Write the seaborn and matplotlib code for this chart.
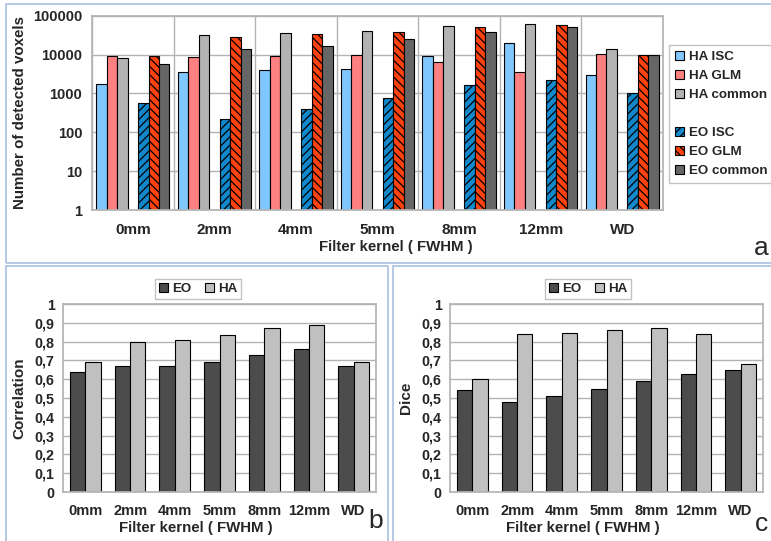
import numpy as np
import pandas as pd
import matplotlib
matplotlib.use("Agg")
import matplotlib.pyplot as plt
import seaborn as sns
from matplotlib.patches import Patch, Rectangle
from matplotlib.colors import to_hex

sns.set_theme(style="white")
plt.rcParams['font.family'] = ['Liberation Sans', 'DejaVu Sans']
plt.rcParams['font.weight'] = 'bold'
plt.rcParams['hatch.linewidth'] = 0.9

# ---------------- data ----------------
kernels = ["0mm", "2mm", "4mm", "5mm", "8mm", "12mm", "WD"]
series_names = ["HA ISC", "HA GLM", "HA common", "EO ISC", "EO GLM", "EO common"]
ha_isc = [1800, 3500, 4100, 4300, 9000, 20000, 3000]
ha_glm = [9000, 8700, 9000, 9500, 6400, 3500, 10200]
ha_common = [8300, 31000, 35500, 41500, 55000, 60500, 14000]
eo_isc = [580, 215, 400, 760, 1600, 2200, 1040]
eo_glm = [9000, 29000, 33500, 38500, 51500, 57000, 10000]
eo_common = [5700, 13800, 17000, 24500, 38000, 50000, 10000]
voxel_ticks = [1, 10, 100, 1000, 10000, 100000]
voxel_ticklabels = ["1", "10", "100", "1000", "10000", "100000"]

groups = ["EO", "HA"]
corr_eo = [0.64, 0.67, 0.67, 0.69, 0.73, 0.76, 0.67]
corr_ha = [0.69, 0.80, 0.81, 0.835, 0.875, 0.89, 0.69]
dice_eo = [0.54, 0.48, 0.51, 0.55, 0.59, 0.63, 0.65]
dice_ha = [0.60, 0.84, 0.845, 0.86, 0.875, 0.84, 0.68]
frac_ticks = [0, 0.1, 0.2, 0.3, 0.4, 0.5, 0.6, 0.7, 0.8, 0.9, 1.0]
frac_ticklabels = ["0", "0,1", "0,2", "0,3", "0,4", "0,5", "0,6", "0,7", "0,8", "0,9", "1"]

# ---------------- styles ----------------
colors = {"HA ISC": "#80c6ff", "HA GLM": "#ff8080", "HA common": "#b3b3b3",
          "gap": "#ffffff",
          "EO ISC": "#1188cc", "EO GLM": "#ff420e", "EO common": "#666666"}
hatches = {"EO ISC": "////", "EO GLM": "\\\\\\\\"}
pair_colors = {"EO": "#4c4c4c", "HA": "#c0c0c0"}
grid_c = "#b3b3b3"
panel_c = "#a9c1e3"

W, H = 771, 541
fig = plt.figure(figsize=(W / 100, H / 100), dpi=100)


def fr(l, t, r, b):
    return [l / W, 1 - b / H, (r - l) / W, (b - t) / H]


# panel borders
for (l, t, r, b) in [(6, 4, 775, 263), (6, 266, 388, 545), (393, 266, 775, 545)]:
    fig.patches.append(Rectangle((l / W, 1 - b / H), (r - l) / W, (b - t) / H,
                                 transform=fig.transFigure, fill=False,
                                 edgecolor=panel_c, linewidth=1.2))

# ---------------- top chart ----------------
ax = fig.add_axes(fr(92, 15.7, 663, 210))
vals = [ha_isc, ha_glm, ha_common, eo_isc, eo_glm, eo_common]
rows = []
for name, v in zip(series_names, vals):
    for k, x in zip(kernels, v):
        rows.append({"kernel": k, "series": name, "value": x})
df = pd.DataFrame(rows)
hue_order = ["HA ISC", "HA GLM", "HA common", "gap", "EO ISC", "EO GLM", "EO common"]
sns.barplot(data=df, x="kernel", y="value", hue="series", hue_order=hue_order,
            order=kernels, palette=colors, width=0.9, errorbar=None, saturation=1,
            edgecolor="black", linewidth=0.8, legend=False, ax=ax)
ax.set_yscale("log")
hex_to_hatch = {colors[k]: h for k, h in hatches.items()}
for p in ax.patches:
    h = hex_to_hatch.get(to_hex(p.get_facecolor()))
    if h:
        p.set_hatch(h)
ax.set_ylim(1, 100000)
ax.set_xlim(-0.5, 6.5)
ax.set_yticks(voxel_ticks, voxel_ticklabels)
ax.yaxis.set_minor_locator(matplotlib.ticker.NullLocator())
ax.set_xticks(np.arange(-0.5, 7, 1), minor=True)
ax.grid(axis="y", which="major", color=grid_c, linewidth=1)
ax.grid(axis="x", which="minor", color=grid_c, linewidth=1)
ax.set_axisbelow(True)
ax.tick_params(axis="x", which="major", length=0, pad=9.5, labelsize=11)
ax.tick_params(axis="x", which="minor", length=8, color=grid_c, width=1)
ax.tick_params(axis="y", which="major", length=5, color=grid_c, labelsize=10.5, pad=2)
for s in ax.spines.values():
    s.set_color(grid_c)
ax.set_xlabel("Filter kernel ( FWHM )", fontsize=10.8, fontweight="bold")
ax.xaxis.set_label_coords(0.532, -0.155)
ax.set_ylabel("Number of detected voxels", fontsize=10.9, fontweight="bold")
ax.yaxis.set_label_coords(-0.114, 0.5)

handles = []
for n in ["HA ISC", "HA GLM", "HA common"]:
    handles.append(Patch(facecolor=colors[n], edgecolor="black", linewidth=0.8, label=n))
handles.append(Patch(facecolor="none", edgecolor="none", label=" "))
for n in ["EO ISC", "EO GLM", "EO common"]:
    handles.append(Patch(facecolor=colors[n], edgecolor="black", linewidth=0.8,
                         hatch=hatches.get(n, None), label=n))
leg = fig.legend(handles=handles, loc="upper left", bbox_to_anchor=(669 / W, 1 - 45 / H),
                 frameon=True, fancybox=False, edgecolor=grid_c, fontsize=9.6,
                 handlelength=0.7, handleheight=0.7, handletextpad=0.35,
                 labelspacing=0.5, borderpad=0.45, borderaxespad=0)
leg.get_frame().set_linewidth(1)
fig.text(761 / W, 1 - 248 / H, "a", fontsize=19, fontweight="normal", ha="center", va="center")


# ---------------- bottom charts ----------------
def pair_chart(rect, eo, ha, ylabel, lab_x, leg_cx, letter, letter_xy):
    a = fig.add_axes(rect)
    rows = []
    for g, v in zip(groups, [eo, ha]):
        for k, x in zip(kernels, v):
            rows.append({"kernel": k, "group": g, "value": x})
    d = pd.DataFrame(rows)
    sns.barplot(data=d, x="kernel", y="value", hue="group", hue_order=groups,
                order=kernels, palette=pair_colors, width=0.69, errorbar=None,
                saturation=1, edgecolor="black", linewidth=0.8, legend=False, ax=a)
    a.set_ylim(0, 1)
    a.set_xlim(-0.5, 6.5)
    a.set_yticks(frac_ticks, frac_ticklabels)
    a.set_xticks(np.arange(-0.5, 7, 1), minor=True)
    a.grid(axis="y", which="major", color=grid_c, linewidth=1)
    a.grid(axis="x", which="both", visible=False)
    a.set_axisbelow(True)
    a.tick_params(axis="x", which="major", length=0, pad=8.5, labelsize=10.5)
    a.tick_params(axis="x", which="minor", length=6, color=grid_c, width=1)
    a.tick_params(axis="y", which="major", length=5, color=grid_c, labelsize=10.3, pad=1)
    for s in a.spines.values():
        s.set_color(grid_c)
    a.set_xlabel("Filter kernel ( FWHM )", fontsize=10.8, fontweight="bold")
    a.xaxis.set_label_coords(lab_x, -0.155)
    a.set_ylabel(ylabel, fontsize=11, fontweight="bold")
    a.yaxis.set_label_coords(-0.118, 0.5)
    hs = [Patch(facecolor=pair_colors[g], edgecolor="black", linewidth=0.8, label=g) for g in groups]
    lg = fig.legend(handles=hs, loc="upper center", bbox_to_anchor=(leg_cx / W, 1 - 279 / H),
                    ncol=2, frameon=True, fancybox=False, edgecolor=grid_c, fontsize=9.6,
                    handlelength=0.7, handleheight=0.7, handletextpad=0.3,
                    columnspacing=1.0, borderpad=0.3, borderaxespad=0)
    lg.get_frame().set_linewidth(1)
    fig.text(letter_xy[0] / W, 1 - letter_xy[1] / H, letter, fontsize=19,
             fontweight="normal", ha="center", va="center")
    return a


pair_chart(fr(63, 304, 376, 492), corr_eo, corr_ha, "Correlation", 0.423, 198, "b", (376, 521))
pair_chart(fr(450, 304, 763, 492), dice_eo, dice_ha, "Dice", 0.425, 588, "c", (761, 524))

fig.savefig("out.png", dpi=100)
